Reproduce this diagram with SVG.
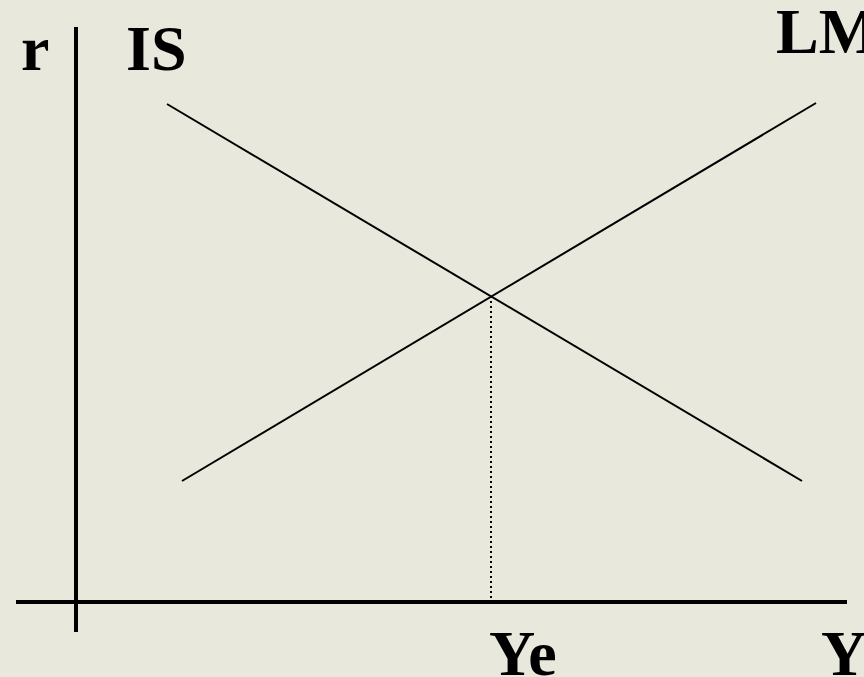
<svg xmlns="http://www.w3.org/2000/svg" width="864" height="677" viewBox="0 0 864 677">
<style>
.axis{stroke:#000;stroke-width:4;fill:none}
.curve{stroke:#000;stroke-width:2;fill:none}
.dot{stroke:#000;stroke-width:2;stroke-dasharray:2 3;fill:none}
.lbl{font-family:"Liberation Serif","Times New Roman",serif;font-weight:bold;font-size:64px;fill:#000}
</style>
<rect width="864" height="677" fill="#E8E8DC"/>
<g id="connectors">
<line class="axis" x1="76" y1="27" x2="76" y2="632"/>
<line class="axis" x1="16" y1="602" x2="847" y2="602"/>
<line class="dot" x1="491" y1="296" x2="491" y2="599"/>
</g>
<g id="IS-curve"><line class="curve" x1="167" y1="104" x2="802" y2="481"/></g>
<g id="LM-curve"><line class="curve" x1="182" y1="481" x2="816" y2="103"/></g>
<g id="labels">
<text class="lbl" x="21" y="70">r</text>
<text class="lbl" x="126" y="70">IS</text>
<text class="lbl" x="776" y="53">LM</text>
<text class="lbl" x="489" y="675">Ye</text>
<text class="lbl" x="821" y="675">Y</text>
</g>
</svg>
